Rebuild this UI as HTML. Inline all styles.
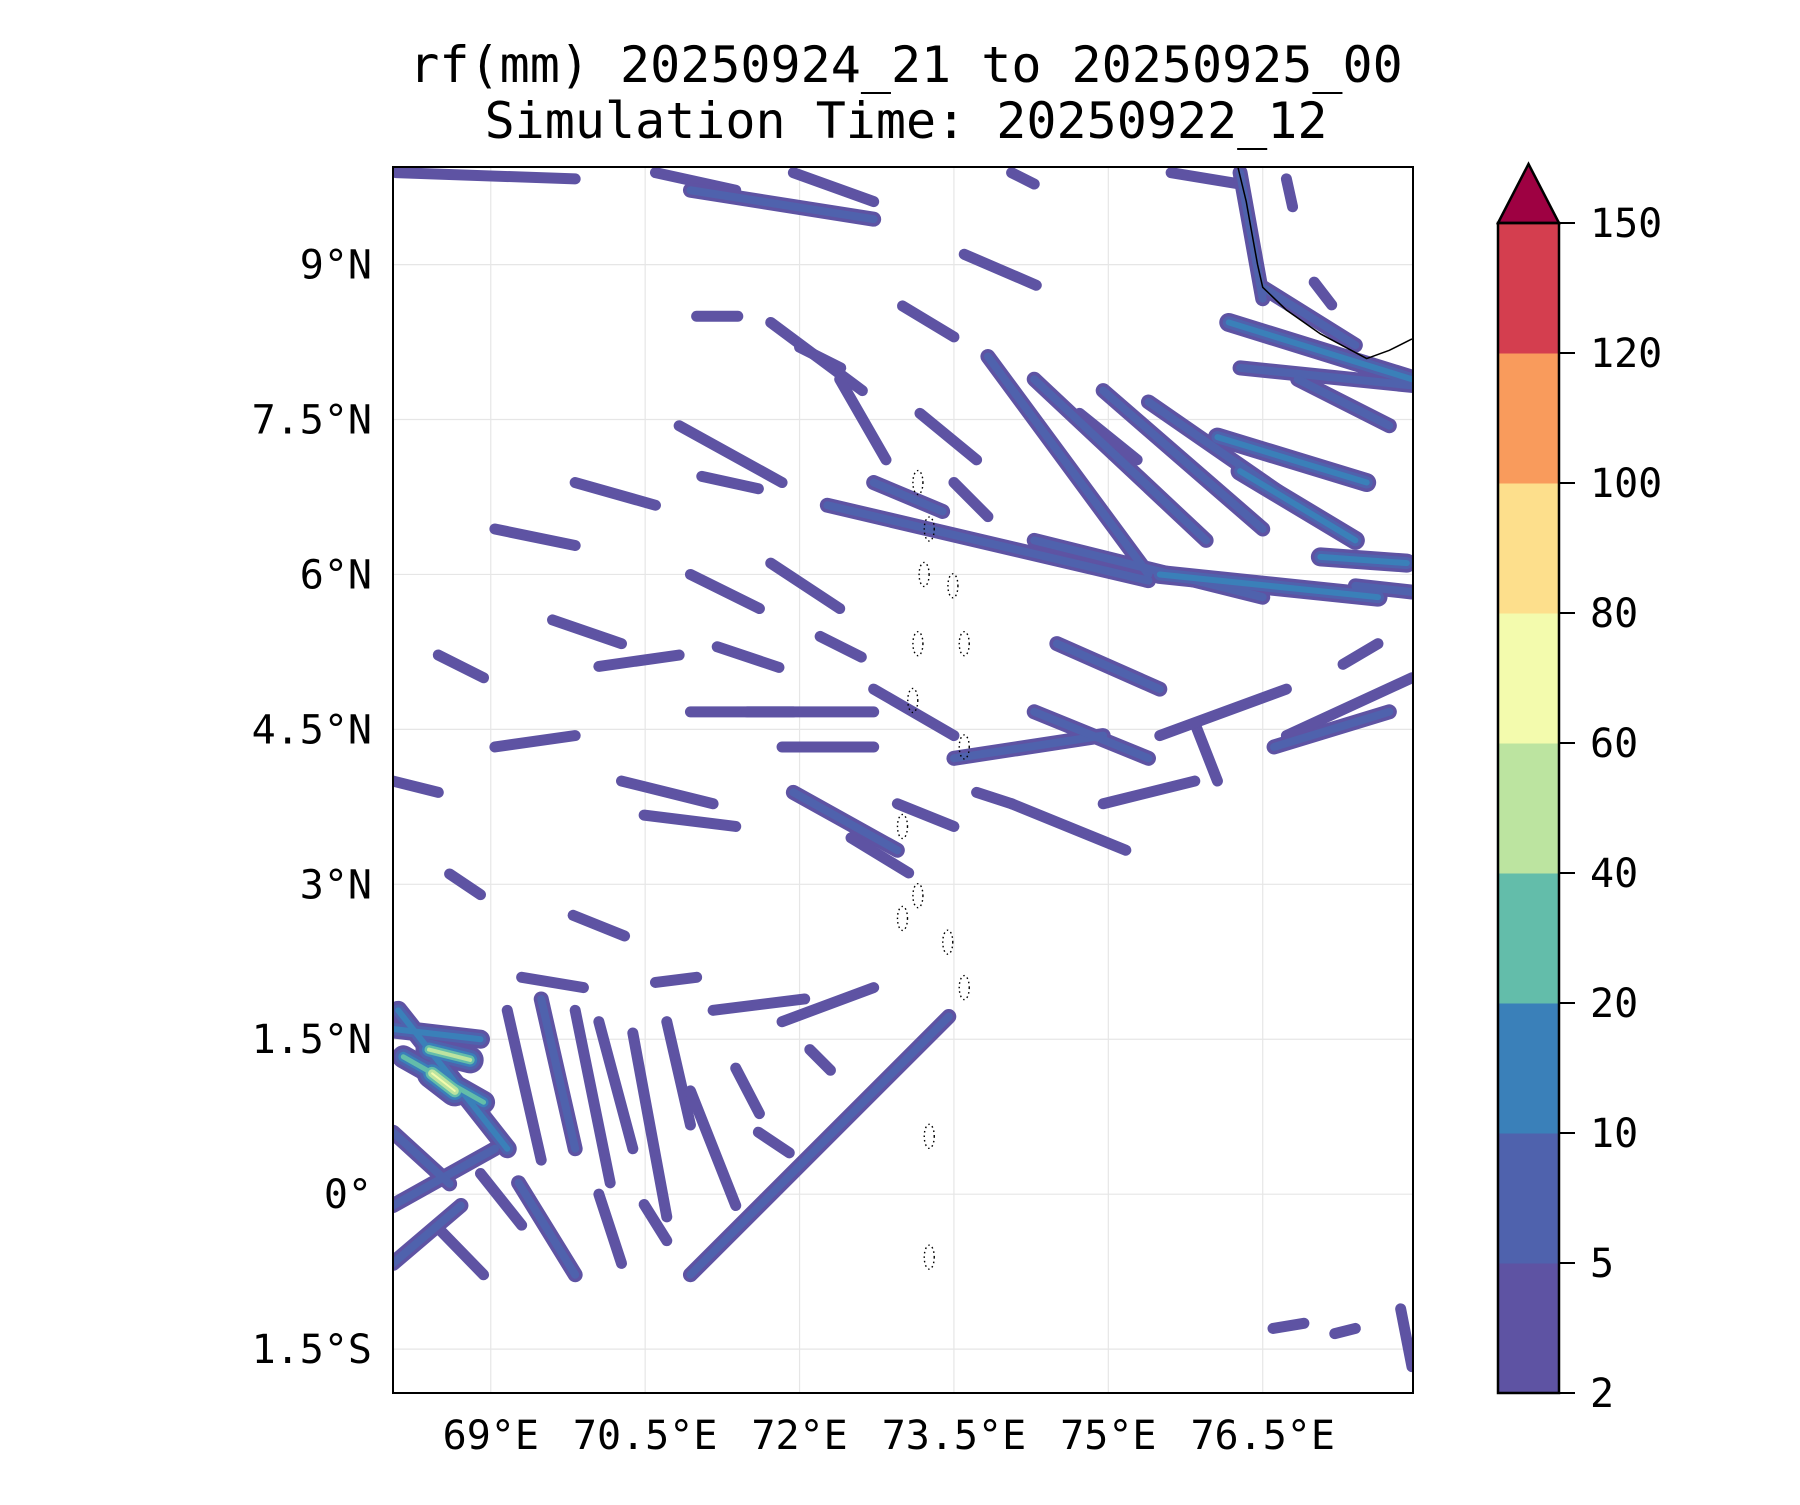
<!DOCTYPE html>
<html><head><meta charset="utf-8"><style>
body{margin:0;background:#fff;}
svg text{font-family:"DejaVu Sans Mono","Liberation Mono",monospace;fill:#000;}
</style></head><body>
<svg id="chart" width="1800" height="1500" viewBox="0 0 1800 1500" xmlns="http://www.w3.org/2000/svg">
<defs><clipPath id="plotclip"><rect x="393" y="167" width="1020" height="1226"/></clipPath></defs>
<text x="906" y="82" font-size="50" text-anchor="middle">rf(mm) 20250924_21 to 20250925_00</text>
<text x="906" y="138" font-size="50" text-anchor="middle">Simulation Time: 20250922_12</text>
<g id="grid"></g>
<g id="rain" clip-path="url(#plotclip)"></g>
<g id="geo" clip-path="url(#plotclip)"></g>
<rect x="393" y="167" width="1020" height="1226" fill="none" stroke="#000" stroke-width="2"/>
<g id="xaxis"></g>
<g id="yaxis"></g>
<g id="cbar"></g>
</svg>
<script>
const NS="http://www.w3.org/2000/svg";
const lonTicks=[69,70.5,72,73.5,75,76.5];
const lonLabels=["69°E","70.5°E","72°E","73.5°E","75°E","76.5°E"];
const latTicks=[9,7.5,6,4.5,3,1.5,0,-1.5];
const latLabels=["9°N","7.5°N","6°N","4.5°N","3°N","1.5°N","0°","1.5°S"];
const cbLevels=[2,5,10,20,40,60,80,100,120,150];
const cbColors=["#5e53a3","#4f62ad","#3a80b9","#63bdaa","#bce4a0","#f3fbad","#fddf8c","#f99b5c","#d43e4f"];
const cbExtendColor="#9e0142";
// rain streaks: [lon1,lat1,lon2,lat2,level]
const streaks=[
[68.08,9.89,69.82,9.83,0],[70.60,9.89,71.38,9.72,0],[70.94,9.72,72.72,9.44,1],[71.94,9.89,72.72,9.61,0],
[75.61,9.89,76.28,9.78,0],[74.06,9.89,74.28,9.78,0],
[76.28,9.89,76.50,8.67,1],[76.50,8.78,77.40,8.22,1],[76.17,8.44,77.95,7.89,2],[76.28,8.0,77.95,7.83,1],
[76.73,9.83,76.79,9.56,0],[77.0,8.83,77.17,8.61,0],[76.84,7.89,77.73,7.44,1],
[73.83,8.11,75.39,6.0,1],[74.28,7.89,75.95,6.33,1],[74.95,7.78,76.50,6.44,1],[75.39,7.67,76.84,6.67,1],
[76.06,7.33,77.51,6.89,2],[76.28,7.0,77.40,6.33,2],[77.06,6.17,77.90,6.11,2],
[72.27,6.67,75.39,5.94,1],[72.72,6.89,73.39,6.61,1],[74.28,6.33,76.50,5.78,1],[75.50,6.0,77.62,5.78,2],[77.40,5.89,77.95,5.83,1],
[71.72,8.44,72.61,7.78,0],[72.39,7.89,72.84,7.11,0],[73.17,7.56,73.72,7.11,0],[70.83,7.44,71.83,6.89,0],
[71.05,6.95,71.6,6.83,0],[73.5,6.89,73.83,6.56,0],[74.72,7.56,75.28,7.11,0],[72.0,8.2,72.4,8.0,0],[73.0,8.6,73.5,8.3,0],
[71.0,8.5,71.4,8.5,0],[73.6,9.1,74.3,8.8,0],
[69.82,6.89,70.60,6.67,0],[69.04,6.44,69.82,6.28,0],[70.94,6.0,71.61,5.67,0],[71.72,6.11,72.39,5.67,0],
[74.50,5.33,75.50,4.89,1],[70.94,4.67,71.94,4.67,0],[71.49,4.67,72.72,4.67,0],[71.83,4.33,72.72,4.33,0],
[72.72,4.89,73.50,4.44,0],[73.50,4.22,74.95,4.44,1],[74.28,4.67,75.39,4.22,1],[75.84,4.56,76.06,4.0,0],
[76.61,4.33,77.73,4.67,1],[75.50,4.44,76.73,4.89,0],[76.73,4.44,77.95,5.0,0],[77.28,5.13,77.62,5.33,0],
[73.72,3.89,74.06,3.78,0],[71.94,3.89,72.95,3.33,1],[72.5,3.45,73.06,3.11,0],[72.95,3.78,73.5,3.56,0],
[74.06,3.78,75.17,3.33,0],[74.95,3.78,75.84,4.0,0],[70.49,3.67,71.38,3.56,0],[70.27,4.0,71.16,3.78,0],
[68.05,4.0,68.49,3.89,0],[69.04,4.33,69.82,4.44,0],[68.49,5.22,68.93,5.0,0],[70.05,5.11,70.83,5.22,0],
[69.6,5.56,70.27,5.33,0],[71.2,5.3,71.8,5.1,0],[72.2,5.4,72.6,5.2,0],[68.6,3.1,68.9,2.9,0],[69.8,2.7,70.3,2.5,0],
[73.45,1.72,70.94,-0.78,1],
[68.10,1.78,69.16,0.44,2],[68.05,1.6,68.9,1.5,2],[68.15,1.33,68.93,0.89,3],[68.4,1.4,68.8,1.3,4],
[68.43,1.17,68.65,1.0,5],
[68.05,-0.11,69.04,0.44,1],[68.05,-0.67,68.71,-0.11,1],[68.05,0.6,68.6,0.1,1],
[69.16,1.78,69.49,0.33,0],[69.49,1.89,69.82,0.44,1],[69.82,1.78,70.16,0.11,0],[70.05,1.67,70.38,0.44,0],
[70.38,1.56,70.71,-0.22,0],[70.71,1.67,70.94,0.67,0],[70.94,1.0,71.38,-0.11,0],[71.38,1.22,71.61,0.78,0],
[69.27,0.11,69.82,-0.78,1],[68.49,-0.33,68.93,-0.78,0],[70.05,0,70.27,-0.67,0],[70.49,-0.1,70.71,-0.45,0],
[71.16,1.78,72.05,1.89,0],[71.83,1.67,72.72,2.0,0],[69.3,2.1,69.9,2.0,0],[70.6,2.05,71.0,2.1,0],
[71.6,0.6,71.9,0.4,0],[72.1,1.4,72.3,1.2,0],[68.9,0.2,69.3,-0.3,0],
[77.84,-1.11,77.95,-1.67,0],[76.6,-1.3,76.9,-1.25,0],[77.2,-1.35,77.4,-1.3,0]
];
const coastLon=[76.26,76.34,76.39,76.45,76.50,76.73,77.06,77.51,77.73,77.95];
const coastLat=[9.94,9.61,9.33,9.0,8.78,8.56,8.33,8.09,8.17,8.28];
const atollLon=[73.15,73.26,73.21,73.49,73.60,73.15,73.10,73.60,73.0,73.15,73.0,73.44,73.60,73.26,73.26];
const atollLat=[6.89,6.44,6.0,5.89,5.33,5.33,4.78,4.33,3.56,2.89,2.67,2.44,2.0,0.56,-0.61];

const X0=393,X1=1413,Y0=167,Y1=1393,LON0=68.05,LON1=77.96,LAT0=-1.925,LAT1=9.945;
const xS=lon=>X0+(lon-LON0)/(LON1-LON0)*(X1-X0);
const yS=lat=>Y1-(lat-LAT0)/(LAT1-LAT0)*(Y1-Y0);
function el(tag,attrs,parent){const e=document.createElementNS(NS,tag);for(const k in attrs)e.setAttribute(k,attrs[k]);parent.appendChild(e);return e;}

const grid=document.getElementById('grid'),xa=document.getElementById('xaxis'),ya=document.getElementById('yaxis');
lonTicks.forEach((v,i)=>{
  const l=el('line',{x1:xS(v),x2:xS(v),y1:Y0,y2:Y1,stroke:'#e6e6e6','stroke-width':1.2},grid);
  
  
  const t=el('text',{x:xS(v),y:1449,'font-size':40,'text-anchor':'middle'},xa);
  t.textContent=lonLabels[i];
  
  
});
latTicks.forEach((v,i)=>{
  const l=el('line',{x1:X0,x2:X1,y1:yS(v),y2:yS(v),stroke:'#e6e6e6','stroke-width':1.2},grid);
  
  
  const t=el('text',{x:372,y:yS(v)+14,'font-size':40,'text-anchor':'end'},ya);
  t.textContent=latLabels[i];
  
  
});

const rain=document.getElementById('rain');
const baseW=[11,8,6,5,4,2];
for(let lev=0;lev<=5;lev++){
  streaks.forEach(s=>{
    if(s[4]<lev)return;
    const extra=(s[4]-lev)*4;
    const p=el('line',{x1:xS(s[0]),y1:yS(s[1]),x2:xS(s[2]),y2:yS(s[3]),stroke:cbColors[lev],'stroke-width':baseW[lev]+extra,'stroke-linecap':'round'},rain);
    
    
  });
}
const geo=document.getElementById('geo');
const cp=el('polyline',{points:coastLon.map((v,i)=>xS(v)+','+yS(coastLat[i])).join(' '),fill:'none',stroke:'#000','stroke-width':1.5},geo);


atollLon.forEach((v,i)=>{
  const c=el('ellipse',{cx:xS(v),cy:yS(atollLat[i]),rx:5,ry:12,fill:'none',stroke:'#000','stroke-width':1.4,'stroke-dasharray':'1.5 3'},geo);
  
  
});

const cb=document.getElementById('cbar');
const CBX=1498,CBW=61,CBT=223,CBB=1393,n=cbLevels.length-1,h=(CBB-CBT)/n;
cbColors.forEach((c,i)=>{
  const r=el('rect',{x:CBX,y:CBB-(i+1)*h,width:CBW,height:h+0.5,fill:c},cb);
  
  
});
const tri=el('polygon',{points:`${CBX},${CBT} ${CBX+CBW/2},164 ${CBX+CBW},${CBT}`,fill:cbExtendColor,stroke:'#000','stroke-width':2.5},cb);


el('rect',{x:CBX,y:CBT,width:CBW,height:CBB-CBT,fill:'none',stroke:'#000','stroke-width':2.5},cb);
cbLevels.forEach((v,i)=>{
  const y=CBB-i*h;
  el('line',{x1:CBX+CBW,x2:CBX+CBW+16,y1:y,y2:y,stroke:'#000','stroke-width':2},cb);
  const t=el('text',{x:1590,y:y+14,'font-size':40},cb);
  t.textContent=v;
  
  
});
</script>
</body></html>
